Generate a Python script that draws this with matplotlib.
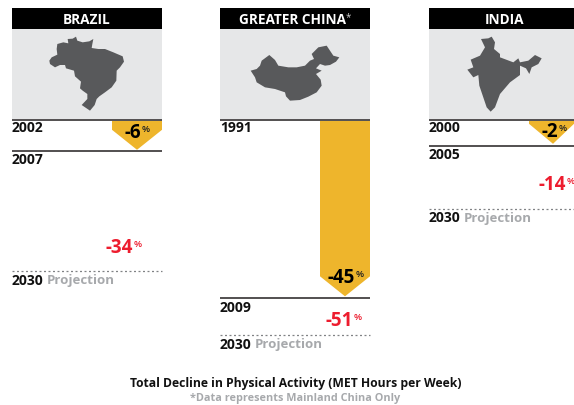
import matplotlib
matplotlib.use("Agg")
import matplotlib.pyplot as plt
from matplotlib.patches import Polygon, Rectangle

plt.rcParams['font.family'] = ['Open Sans', 'DejaVu Sans']

# Data
countries = ["BRAZIL", "GREATER CHINA", "INDIA"]
start_years = ["2002", "1991", "2000"]
end_years = ["2007", "2009", "2005"]
projection_year = "2030"
observed_decline = [-6, -45, -2]
projected_decline = [-34, -51, -14]
# Drawn length of the bars on the (non-linear) infographic scale
observed_length = [30, 176.5, 24]
end_line_length = [31, 178.5, 26]
projected_length = [151.5, 215.5, 89]

brazil_map = [(148,185),(155,175),(172,167),(170,150),(172,135),(190,130),(205,133),(203,120),(218,119),(228,113),(232,125),(248,130),(268,127),(280,120),(277,135),(275,147),(295,150),(315,150),(340,160),(368,172),(372,188),(360,205),(350,215),(349,245),(335,265),(315,280),(298,292),(290,300),(284,318),(270,335),(245,318),(262,300),(262,285),(248,275),(240,268),(243,248),(225,232),(222,215),(198,208),(195,198),(180,198),(165,205),(150,195)]
china_map = [(122,215),(140,210),(150,200),(155,185),(178,168),(195,183),(205,200),(235,205),(260,205),(285,200),(300,185),(312,180),(305,165),(325,145),(350,140),(370,170),(388,175),(378,188),(360,198),(345,200),(330,195),(318,208),(335,215),(318,225),(332,242),(335,260),(320,280),(295,293),(270,303),(240,305),(228,292),(225,280),(195,270),(165,265),(140,250),(135,235)]
india_map = [(183,120),(205,118),(215,113),(225,130),(222,150),(240,165),(240,175),(280,190),(295,178),(300,190),(325,185),(345,168),(365,178),(355,195),(335,205),(328,225),(318,208),(300,200),(300,228),(270,250),(240,285),(225,325),(212,338),(200,325),(178,260),(175,228),(160,235),(142,212),(160,205),(152,182),(180,170),(195,145)]
maps = [brazil_map, china_map, india_map]
map_offsets = [0, 210, 420]

# Layout
panel_left = [12, 220, 429]
panel_right = [162, 370, 574]
bar_left = [112, 320, 529]
tip_x = [137, 345, 553]
baseline = 120.8
GOLD = "#EEB52C"; RED = "#ED1C2E"; GREY = "#A7A9AC"; MAPC = "#58595B"; BG = "#E6E7E8"

fig = plt.figure(figsize=(5.74, 4.06), dpi=100)
ax = fig.add_axes([0, 0, 1, 1])
ax.set_xlim(0, 574); ax.set_ylim(406, 0); ax.axis("off")

for i, name in enumerate(countries):
    L, R = panel_left[i], panel_right[i]
    ax.add_patch(Rectangle((L, 9), R - L, 21, fc="black", ec="none", zorder=1))
    ax.add_patch(Rectangle((L, 30), R - L, 90, fc=BG, ec="none", zorder=1))
    cx = (L + R) / 2 if i != 2 else 504.5
    if i == 1:
        cx = 292.5
    ax.text(cx, 20, name, color="white", fontsize=9.8, fontweight="bold", ha="center", va="center", zorder=3)
    if i == 1:
        ax.text(346, 17.5, "*", color="#D0D0D0", fontsize=7, ha="left", va="center", zorder=3)
    off = map_offsets[i]
    ax.add_patch(Polygon([(off + x / 3, y / 3) for x, y in maps[i]], closed=True, fc=MAPC, ec="none", zorder=2))

    # bar
    end = baseline + observed_length[i]
    top = 122
    shoulder = max(end - 20, top + 0.5)
    bl, br, tx = bar_left[i], R, tip_x[i]
    ax.add_patch(Polygon([(bl, top), (br, top), (br, shoulder), (tx, end), (bl, shoulder)],
                         closed=True, fc=GOLD, ec="none", zorder=2))
    ax.plot([L, R], [baseline, baseline], color="#231F20", lw=1.1, zorder=3, solid_capstyle="butt")
    line_y = baseline + end_line_length[i]
    ax.plot([L, R], [line_y, line_y], color="#231F20", lw=1.1, zorder=3, solid_capstyle="butt")
    proj_y = baseline + projected_length[i]
    ax.plot([L, R], [proj_y, proj_y], color="#808285", lw=0.9, ls=(0, (1.6, 2.0)), zorder=3)

    # year labels
    ax.text(L, baseline + 7.5, start_years[i], fontsize=10, fontweight="bold", color="#111111", ha="left", va="center")
    ax.text(L, line_y + 8.5, end_years[i], fontsize=10, fontweight="bold", color="#111111", ha="left", va="center")
    ax.text(L, proj_y + 8.5, projection_year, fontsize=10, fontweight="bold", color="#111111", ha="left", va="center")
    ax.text(L + 35, proj_y + 8.5, "Projection", fontsize=9.5, fontweight="bold", color=GREY, ha="left", va="center")

# percent labels: right edge of number, vertical position
obs_num_x = [141, 355, 558]
obs_num_y = [133, 278, 132]
proj_num_x = [133, 353, 566]
proj_num_y = [248, 321.5, 185.5]
for i in range(3):
    ax.text(obs_num_x[i], obs_num_y[i], f"{observed_decline[i]}", fontsize=13.5, fontweight="bold",
            color="black", ha="right", va="center", zorder=4)
    ax.text(obs_num_x[i] + 0.5, obs_num_y[i] - 3.5, "%", fontsize=6.8, fontweight="semibold", color="#222222",
            ha="left", va="center", zorder=4)
    ax.text(proj_num_x[i], proj_num_y[i], f"{projected_decline[i]}", fontsize=13.5, fontweight="bold",
            color=RED, ha="right", va="center", zorder=4)
    ax.text(proj_num_x[i] + 1, proj_num_y[i] - 3.5, "%", fontsize=6.8, fontweight="semibold", color=RED,
            ha="left", va="center", zorder=4)

ax.text(295.5, 384, "Total Decline in Physical Activity (MET Hours per Week)", fontsize=8.75, fontweight="bold",
        color="#111111", ha="center", va="center")
ax.text(295, 399, "*Data represents Mainland China Only", fontsize=7.85, fontweight="bold",
        color=GREY, ha="center", va="center")

fig.savefig("out.png", dpi=100, facecolor="white")
